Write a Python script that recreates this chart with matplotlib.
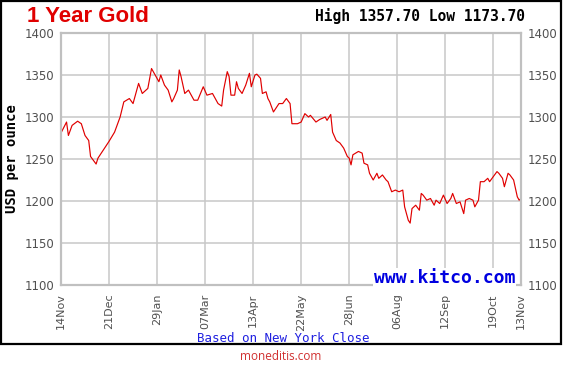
import matplotlib
matplotlib.use("Agg")
import matplotlib.pyplot as plt
from matplotlib.patches import Rectangle

# trading-day index (0 = 14 Nov) and NY close
day_idx = [0, 3, 4, 6, 9, 11, 13, 15, 16, 19, 20, 23, 26, 29, 32, 34, 37, 39, 42, 44,
           47, 49, 52, 53, 54, 56, 58, 60, 61, 63, 64, 65, 67, 69, 70, 72, 74, 77, 79, 82,
           83, 85, 87, 88, 90, 91, 92, 94, 95, 96, 98, 100, 102, 103, 105, 106, 108, 109, 111, 112,
           113, 115, 118, 120, 122, 124, 125, 128, 130, 132, 134, 135, 138, 140, 143, 144, 146, 147, 149, 151,
           153, 155, 156, 157, 158, 161, 163, 164, 166, 167, 169, 171, 172, 174, 176, 177, 179, 181, 183, 185,
           186, 188, 189, 190, 192, 194, 195, 196, 198, 200, 202, 203, 205, 207, 209, 211, 212, 214, 216, 218,
           219, 221, 223, 224, 226, 227, 229, 231, 232, 234, 236, 237, 239, 240, 242, 243, 245, 247, 248, 249]
price = [1281, 1294, 1278, 1290, 1295, 1292, 1278, 1272, 1253, 1244, 1251, 1261, 1271, 1282, 1300, 1318, 1322, 1316, 1340, 1328,
         1334, 1357.7, 1346, 1342, 1350, 1338, 1332, 1318, 1322, 1332, 1356, 1348, 1328, 1332, 1328, 1320, 1320, 1336, 1326, 1328,
         1324, 1316, 1313, 1332, 1354, 1348, 1326, 1326, 1342, 1334, 1328, 1338, 1352, 1336, 1350, 1351, 1346, 1328, 1330, 1322,
         1318, 1306, 1316, 1316, 1322, 1316, 1292, 1292, 1294, 1304, 1300, 1302, 1294, 1297, 1300, 1296, 1303, 1282, 1272, 1269,
         1263, 1253, 1251, 1243, 1255, 1259, 1257, 1245, 1243, 1233, 1225, 1233, 1227, 1231, 1225, 1223, 1211, 1213, 1211, 1213,
         1193, 1177, 1173.7, 1191, 1195, 1189, 1209, 1207, 1201, 1203, 1195, 1201, 1197, 1207, 1197, 1203, 1209, 1197, 1199, 1185,
         1201, 1203, 1201, 1193, 1201, 1223, 1223, 1227, 1223, 1229, 1235, 1233, 1227, 1217, 1233, 1231, 1225, 1205, 1201, 1203]

tick_pos = [0, 26, 52, 78, 104, 130, 156, 182, 208, 234, 249]
tick_labels = ["14Nov", "21Dec", "29Jan", "07Mar", "13Apr", "22May", "28Jun", "06Aug", "12Sep", "19Oct", "13Nov"]
y_ticks = [1100, 1150, 1200, 1250, 1300, 1350, 1400]

W, H = 564, 367
fig = plt.figure(figsize=(W / 100, H / 100), dpi=100)
fig.patch.set_facecolor("white")

def fx(px):
    return px / W

def fy(py):
    return 1 - py / H

# outer black frame
fig.patches.append(Rectangle((fx(1), fy(344)), fx(561) - fx(1), fy(1) - fy(344),
                             transform=fig.transFigure, fill=False, edgecolor="black", linewidth=1.6))

ax = fig.add_axes([fx(61), fy(285), fx(521) - fx(61), fy(33) - fy(285)])
ax.plot(day_idx, price, color="#e00000", linewidth=0.85)
ax.set_xlim(0, 249)
ax.set_ylim(1100, 1400)
ax.set_xticks(tick_pos)
ax.set_xticklabels(tick_labels, rotation=90, fontsize=8, color="#505050")
ax.set_yticks(y_ticks)
ax.set_yticklabels([str(v) for v in y_ticks], fontsize=8.5, color="#505050")
ax.tick_params(axis="both", length=0)
ax.tick_params(axis="x", pad=6)
ax.tick_params(axis="y", pad=5, labelright=True)
ax.grid(True, color="#c8c8c8", linewidth=1.1)
ax.set_axisbelow(True)
for s in ax.spines.values():
    s.set_color("#c0c0c0")
    s.set_linewidth(1.6)
ax.set_ylabel("USD per ounce", fontsize=10, fontweight="bold", family="DejaVu Sans Mono", labelpad=4)

fig.text(fx(27), fy(16), "1 Year Gold", color="#e00000", fontsize=16, fontweight="bold",
         family="Liberation Sans", va="center", ha="left")
fig.text(fx(525), fy(16), "High 1357.70 Low 1173.70", fontsize=10.5, fontweight="bold",
         family="DejaVu Sans Mono", va="center", ha="right")
fig.text(fx(515), fy(278), "www.kitco.com", color="#0000e0", fontsize=13, fontweight="bold",
         family="DejaVu Sans Mono", va="center", ha="right",
         bbox=dict(facecolor="white", edgecolor="none", pad=0.5))
fig.text(fx(283), fy(338), "Based on New York Close", color="#2020e0", fontsize=9,
         family="DejaVu Sans Mono", va="center", ha="center")
fig.text(fx(281), fy(356), "moneditis.com", color="#d03030", fontsize=8.5,
         family="Open Sans", va="center", ha="center")

fig.savefig("out.png", dpi=100)
